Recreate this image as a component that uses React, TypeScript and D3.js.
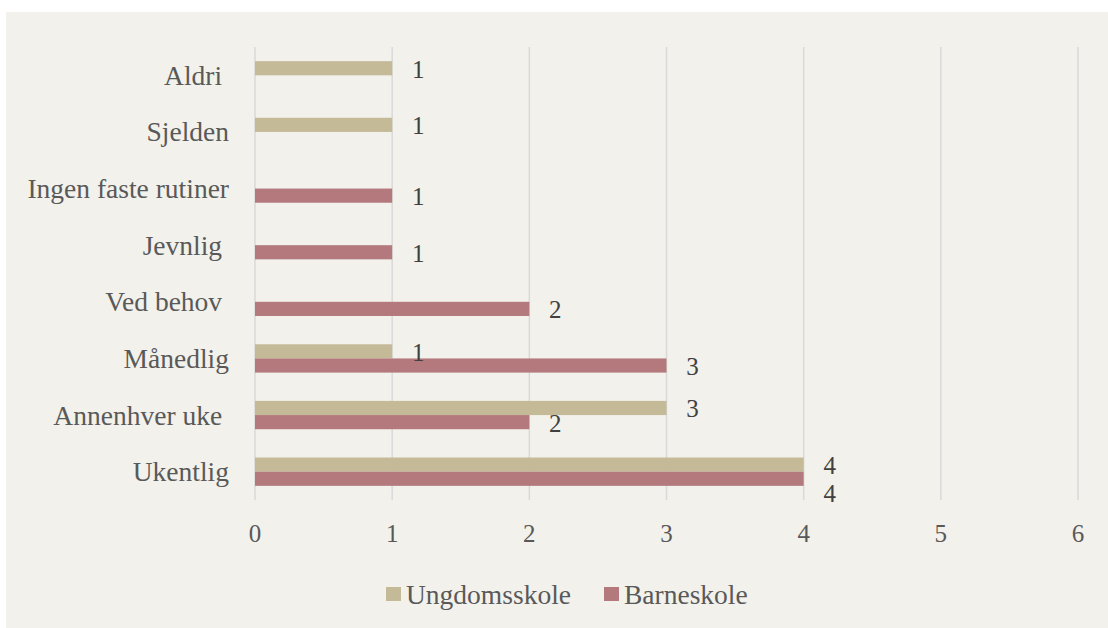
import React from 'react'
import * as d3 from 'd3'

const categories = ['Aldri ', 'Sjelden', 'Ingen faste rutiner', 'Jevnlig ', 'Ved behov ', 'Månedlig', 'Annenhver uke ', 'Ukentlig']
const seriesNames = ['Ungdomsskole', 'Barneskole']
const ungdomsskole = [1, 1, null, null, null, 1, 3, 4]
const barneskole = [null, null, 1, 1, 2, 3, 2, 4]
const xTicks = [0, 1, 2, 3, 4, 5, 6]
const colors = ['#C4BA98', '#B3797D']

const W = 1108
const H = 628
const font = '"Liberation Serif", "Times New Roman", serif'

function App() {
  const series = [ungdomsskole, barneskole]

  const x = d3.scaleLinear().domain([0, 6]).range([255, 1078])
  const y = d3.scaleBand().domain(categories).range([47, 500]).paddingInner(0.5).paddingOuter(0.25)
  const inner = d3.scaleBand().domain(seriesNames).range([0, y.bandwidth()])

  const bars = []
  const labels = []
  categories.forEach((c, i) => {
    series.forEach((vals, s) => {
      const v = vals[i]
      if (v == null) return
      const by = (y(c) as number) + (inner(seriesNames[s]) as number)
      const h = inner.bandwidth()
      bars.push(
        <rect key={`b${i}-${s}`} x={x(0)} y={by} width={x(v) - x(0)} height={h} fill={colors[s]} />
      )
      // push lower label down when both labels would sit on the same spot
      const other = series[1 - s][i]
      const clash = s === 1 && other != null && other === v
      labels.push(
        <text key={`l${i}-${s}`} x={x(v) + 26} y={by + h / 2 + 1 + (clash ? 14 : 0)}
          dominantBaseline="central" textAnchor="middle" fontSize={25} fill="#404040">{v}</text>
      )
    })
  })

  return (
    <div style={{ position: 'absolute', left: 0, top: 0 }}>
      <svg width={W} height={H} style={{ display: 'block', fontFamily: font }}>
        <rect x={0} y={0} width={W} height={H} fill="#ffffff" />
        <rect x={6} y={12} width={W - 6} height={H - 12} fill="#F2F1EB" />
        {xTicks.map(t => (
          <g key={t}>
            <line x1={x(t)} x2={x(t)} y1={47} y2={500} stroke="#D9D9D9" strokeWidth={1.5} />
            <text x={x(t)} y={533} textAnchor="middle" dominantBaseline="central" fontSize={25} fill="#595959">{t}</text>
          </g>
        ))}
        {categories.map(c => (
          <text key={c} x={229} y={(y(c) as number) + y.bandwidth() / 2} textAnchor="end"
            dominantBaseline="central" fontSize={27.5} fill="#595959" style={{ whiteSpace: 'pre' }}>{c}</text>
        ))}
        {bars}
        {labels}
        <g>
          <rect x={386} y={587} width={15} height={14} fill={colors[0]} />
          <text x={406} y={594} dominantBaseline="central" fontSize={27.5} fill="#595959">{seriesNames[0]}</text>
          <rect x={604} y={587} width={15} height={14} fill={colors[1]} />
          <text x={624} y={594} dominantBaseline="central" fontSize={27.5} fill="#595959">{seriesNames[1]}</text>
        </g>
      </svg>
    </div>
  )
}

export default App
